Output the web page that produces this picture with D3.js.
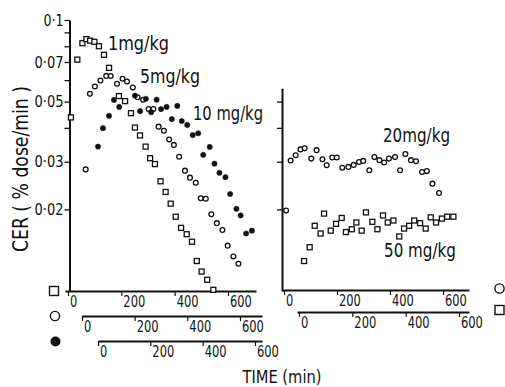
<!DOCTYPE html>
<html><head><meta charset="utf-8">
<script src="https://cdn.jsdelivr.net/npm/d3@7"></script>
<style>
body{margin:0;background:#fff}
text{font-family:"DejaVu Sans Condensed","DejaVu Sans",sans-serif;fill:#111}
</style>
</head><body>
<svg id="c" width="505" height="387"></svg>
<script>
// ---- data (time in min, CER in % dose/min) ----
const dose1 = [[11,0.0437],[35,0.0714],[54,0.0821],[69,0.0850],[83,0.0839],[99,0.0831],[116,0.0800],[135,0.0744],[154,0.0666],[191,0.0524],[214,0.0502],[236,0.0453],[251,0.0401],[270,0.0375],[291,0.0341],[308,0.0309],[326,0.0294],[347,0.0254],[366,0.0232],[385,0.0210],[404,0.0188],[424,0.0171],[445,0.0162],[465,0.0152],[483,0.0129],[501,0.0118],[522,0.0110],[545,0.0101]];
const dose5 = [[14,0.0281],[30,0.0534],[49,0.0568],[70,0.0598],[92,0.0622],[109,0.0621],[133,0.0582],[154,0.0607],[171,0.0593],[193,0.0563],[211,0.0519],[232,0.0508],[253,0.0469],[271,0.0469],[291,0.0404],[311,0.0390],[331,0.0362],[349,0.0346],[369,0.0313],[391,0.0278],[410,0.0262],[432,0.0251],[451,0.0220],[470,0.0219],[491,0.0192],[512,0.0178],[533,0.0168],[553,0.0147],[575,0.0134],[594,0.0126]];
const dose10 = [[0,0.0341],[19,0.0399],[42,0.0443],[61,0.0507],[81,0.0478],[141,0.0526],[161,0.0461],[183,0.0512],[203,0.0457],[224,0.0508],[241,0.0469],[262,0.0478],[282,0.0431],[303,0.0482],[320,0.0424],[341,0.0410],[362,0.0376],[383,0.0382],[402,0.0318],[427,0.0340],[445,0.0295],[464,0.0273],[487,0.0263],[505,0.0228],[529,0.0201],[545,0.0190],[566,0.0163],[588,0.0167]];
const dose20 = [[8,0.0198],[25,0.0303],[44,0.0317],[62,0.0333],[78,0.0336],[103,0.0308],[123,0.0331],[145,0.0306],[161,0.0291],[182,0.0311],[199,0.0311],[220,0.0285],[243,0.0287],[263,0.0292],[283,0.0299],[299,0.0302],[322,0.0279],[341,0.0312],[360,0.0304],[378,0.0298],[396,0.0308],[419,0.0312],[438,0.0279],[458,0.0320],[479,0.0304],[498,0.0301],[521,0.0275],[539,0.0277],[560,0.0249],[585,0.0230]];
const dose50 = [[19,0.0129],[40,0.0145],[59,0.0174],[81,0.0163],[94,0.0193],[119,0.0167],[139,0.0177],[160,0.0186],[176,0.0165],[198,0.0169],[215,0.0179],[235,0.0167],[251,0.0195],[275,0.0180],[294,0.0169],[315,0.0190],[333,0.0179],[354,0.0182],[376,0.0159],[394,0.0170],[413,0.0174],[432,0.0182],[454,0.0178],[475,0.0170],[494,0.0187],[514,0.0179],[536,0.0185],[556,0.0188],[579,0.0188]];
const doseLabels = ["1mg/kg","5mg/kg","10 mg/kg","20mg/kg","50 mg/kg"];
const xTicks = [0,200,400,600];
const yTicksLeft = [0.1,0.09,0.08,0.07,0.06,0.05,0.04,0.03,0.02];
const yTicksRight = [0.05,0.04,0.03,0.02];
const yLabelled = [0.1,0.07,0.05,0.03,0.02];
const yTickLabels = ["0·1","0·07","0·05","0·03","0·02"];
const yTitle = "CER ( % dose/min )";
const xTitle = "TIME (min)";

const svg = d3.select("#c");
const y = d3.scaleLog().domain([0.01,0.1]).range([291,20]);

// time axes: [origin px, 600-min px, line start px, line end px, axis y px]
const axisDefs = {
  sq:  [68, 228, 65, 256, 291],
  oc:  [82, 240, 82, 262, 316],
  fc:  [98, 255, 98, 262, 341],
  r20: [284, 443, 282, 469, 290],
  r50: [299, 459, 297, 469, 312]
};
const xs = {};
for (const k in axisDefs) {
  const [a,b,s,e,yy] = axisDefs[k];
  const sc = d3.scaleLinear().domain([0,600]).range([a,b]);
  xs[k] = sc;
  const ext = sc.copy().domain([sc.invert(s), sc.invert(e)]).range([s,e]);
  const g = svg.append("g").attr("transform",`translate(0,${yy})`)
    .call(d3.axisBottom(ext).tickValues(xTicks).tickSize(5).tickSizeOuter(0).tickFormat(d3.format("d")));
  g.select(".domain").attr("stroke","#111").attr("stroke-width",2);
  g.selectAll(".tick line").attr("stroke","#111").attr("stroke-width",1.2);
  g.selectAll(".tick text").attr("text-anchor","start").attr("x",1.5).attr("y",4)
    .attr("font-size",16.5).attr("font-family",null).attr("fill","#111")
    .attr("textLength",d=>String(d).length*7.3).attr("lengthAdjust","spacingAndGlyphs");
}

// left y axis
const fmtY = d => { const i = yLabelled.indexOf(d); return i>=0 ? yTickLabels[i] : ""; };
const gl = svg.append("g").attr("transform","translate(69.5,0)")
  .call(d3.axisLeft(y).tickValues(yTicksLeft).tickSize(5).tickSizeOuter(0).tickFormat(fmtY));
gl.select(".domain").attr("stroke","#111").attr("stroke-width",2);
gl.selectAll(".tick line").attr("stroke","#111").attr("stroke-width",1.3);
gl.selectAll(".tick text").attr("x",-6).attr("font-size",16).attr("font-family",null).attr("fill","#111")
  .filter(function(){ return this.textContent.length>0; })
  .attr("textLength",function(){ return this.textContent.length===3 ? 20 : 29; })
  .attr("lengthAdjust","spacingAndGlyphs");

// right y axis
const yr = y.copy().domain([0.01,0.056]).range([y(0.01), y(0.056)]);
const gr = svg.append("g").attr("transform","translate(282,0)")
  .call(d3.axisLeft(yr).tickValues(yTicksRight).tickSize(5).tickSizeOuter(0).tickFormat(""));
gr.select(".domain").attr("stroke","#111").attr("stroke-width",2);
gr.selectAll(".tick line").attr("stroke","#111").attr("stroke-width",1.3);

// markers
function squares(data, sx){
  svg.append("g").selectAll("rect").data(data).join("rect")
    .attr("x",d=>sx(d[0])-2.5).attr("y",d=>y(d[1])-2.5).attr("width",5).attr("height",5)
    .attr("fill","#fff").attr("stroke","#111").attr("stroke-width",1.3);
}
function circles(data, sx, filled){
  svg.append("g").selectAll("circle").data(data).join("circle")
    .attr("cx",d=>sx(d[0])).attr("cy",d=>y(d[1])).attr("r",filled?2.6:2.4)
    .attr("fill",filled?"#111":"#fff").attr("stroke","#111").attr("stroke-width",filled?0.6:1.3);
}
squares(dose1, xs.sq);
circles(dose5, xs.oc, false);
circles(dose10, xs.fc, true);
circles(dose20, xs.r20, false);
squares(dose50, xs.r50);

// legend symbols beside each time axis
svg.append("rect").attr("x",49.5).attr("y",286.5).attr("width",9).attr("height",9).attr("fill","#fff").attr("stroke","#111").attr("stroke-width",1.4);
svg.append("circle").attr("cx",55).attr("cy",316).attr("r",4.6).attr("fill","#fff").attr("stroke","#111").attr("stroke-width",1.4);
svg.append("circle").attr("cx",55.5).attr("cy",341.5).attr("r",5).attr("fill","#111");
svg.append("circle").attr("cx",499.5).attr("cy",288.5).attr("r",4.6).attr("fill","#fff").attr("stroke","#111").attr("stroke-width",1.4);
svg.append("rect").attr("x",495).attr("y",305.5).attr("width",9).attr("height",9).attr("fill","#fff").attr("stroke","#111").attr("stroke-width",1.4);

// series labels
const labelPos = [[108,50,61],[140,83,60],[193,120,70],[383,142,67],[384,257,72]];
doseLabels.forEach((t,i)=>{
  const [lx,ly,w] = labelPos[i];
  svg.append("text").attr("x",lx).attr("y",ly).attr("font-size",19)
    .attr("textLength",w).attr("lengthAdjust","spacingAndGlyphs").text(t);
});

// axis titles
svg.append("text").attr("transform","translate(28,169) rotate(-90)").attr("text-anchor","middle")
  .attr("font-size",22).attr("textLength",166).attr("lengthAdjust","spacingAndGlyphs").text(yTitle);
svg.append("text").attr("x",282).attr("y",382.5).attr("text-anchor","middle")
  .attr("font-size",17).attr("textLength",79).attr("lengthAdjust","spacingAndGlyphs").text(xTitle);
</script>
</body></html>
